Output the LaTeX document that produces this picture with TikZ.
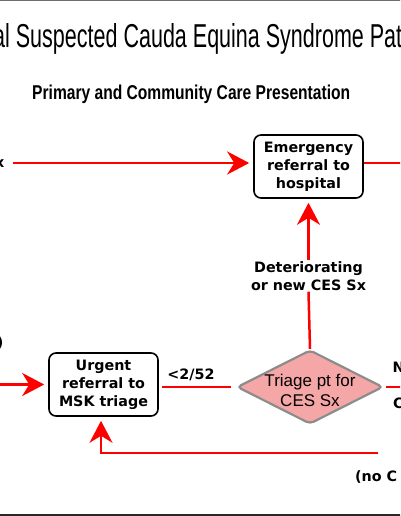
\documentclass[tikz,border=0pt]{standalone}
\usepackage{fontspec}
\newfontfamily\dejavu{DejaVu Sans}
\newfontfamily\libsans{Liberation Sans}
\usetikzlibrary{arrows.meta,shapes.geometric}
\definecolor{cesred}{RGB}{255,0,0}
\definecolor{diamfill}{RGB}{245,166,166}
\definecolor{diamedge}{RGB}{140,140,140}
\definecolor{topedge}{RGB}{110,110,110}
\definecolor{botedge}{RGB}{40,40,40}
\begin{document}
\begin{tikzpicture}[x=1pt,y=-1pt,
  box/.style={draw=black, line width=1.6pt, rounded corners=7pt, fill=white,
    minimum width=109pt, minimum height=63pt, inner sep=0pt, align=center,
    font=\dejavu\bfseries\fontsize{14.3}{18}\selectfont},
  lbl/.style={font=\dejavu\bfseries\fontsize{14.3}{18}\selectfont, inner sep=1pt, align=center},
  flow/.style={draw=cesred, line width=2.5pt},
  arr/.style={flow, -{Stealth[length=22pt,width=23pt,inset=7pt]}, shorten >=4pt},
  diam/.style={diamond, draw=diamedge, line width=2.2pt, fill=diamfill,
    minimum width=146pt, minimum height=74pt, inner sep=0pt, rounded corners=4pt}
]
\useasboundingbox (0,0) rectangle (400,516);
\clip (0,0) rectangle (400,516);

% frame edges
\draw[line width=1.6pt, topedge] (-5,0.6) -- (405,0.6);
\draw[line width=2.2pt, botedge] (-5,515) -- (405,515);

% titles
\node[anchor=base west, inner sep=0pt] (title) at (-7,48)
  {\resizebox{409pt}{24pt}{\libsans al Suspected Cauda Equina Syndrome Pat}};
\node[anchor=base west, inner sep=0pt] (subtitle) at (32,100)
  {\resizebox{318pt}{14.5pt}{\libsans\bfseries Primary and Community Care Presentation}};

% nodes
\node[box] (emerg) at (308.5,166.5) {Emergency\\referral to\\hospital};
\node[box] (urgent) at (103.5,384.5) {Urgent\\referral to\\MSK triage};
\node[diam] (tri) at (310,387) {};
\node[font=\libsans\fontsize{17}{20}\selectfont, align=center, inner sep=0pt] (tritext) at (310,390) {Triage pt for\\CES Sx};

% labels
\node[lbl] (det) at (308.5,276) {Deteriorating\\or new CES Sx};
\node[lbl] (lt) at (191,375) {<2/52};
\node[lbl, anchor=east, inner sep=0pt] (sxcut) at (4.5,163.5) {x};
\node[lbl, anchor=east, inner sep=0pt] (parcut) at (3.5,343) {)};
\node[lbl, anchor=base west, inner sep=0pt] (ncut) at (392.5,372) {N};
\node[lbl, anchor=base west, inner sep=0pt] (ccut) at (393,408) {C};
\node[lbl, anchor=west, inner sep=0pt] (nocut) at (355,477) {(no C};

% connectors
\coordinate (inx) at (13,163);
\draw[arr] (inx) -- (inx -| emerg.west);
\coordinate (outr) at (405,163);
\draw[flow] (outr -| emerg.east) -- (outr);
\draw[flow] (tri.north) -- (det.south);
\draw[arr] (det.north) -- (det.north |- emerg.south);
\draw[flow, shorten <=5pt, shorten >=3pt] (tri.west) -- (tri.west -| urgent.east);
\coordinate (triout) at (405,387);
\draw[flow, shorten <=2pt] (tri.east) -- (triout);
\coordinate (inl) at (-5,384.5);
\draw[arr] (inl) -- (urgent.west);
\coordinate (loop) at (378,453);
\draw[arr] (loop) -| ([xshift=-2.5pt]urgent.south);
\end{tikzpicture}
\end{document}
